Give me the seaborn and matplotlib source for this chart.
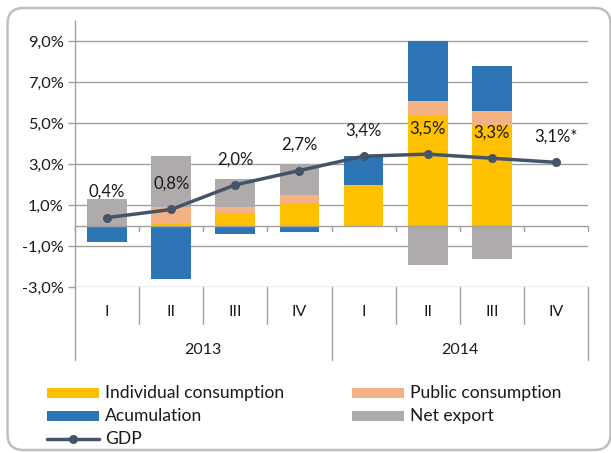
import numpy as np
import pandas as pd
import matplotlib
matplotlib.use("Agg")
import matplotlib.pyplot as plt
import seaborn as sns
from matplotlib.patches import FancyBboxPatch, Rectangle
from matplotlib.lines import Line2D
import matplotlib.transforms as mtransforms

quarters = ["I", "II", "III", "IV", "I", "II", "III", "IV"]
years = ["2013", "2014"]
individual = [0.0, 0.1, 0.6, 1.1, 2.0, 5.4, 4.9, 0.0]
public = [0.0, 0.8, 0.3, 0.4, 0.0, 0.7, 0.7, 0.0]
accumulation = [-0.8, -2.6, -0.4, -0.3, 1.4, 2.9, 2.2, 0.0]
net_export = [1.3, 2.5, 1.4, 1.5, 0.0, -1.9, -1.6, 0.0]
gdp = [0.4, 0.8, 2.0, 2.7, 3.4, 3.5, 3.3, 3.1]
gdp_labels = ["0,4%", "0,8%", "2,0%", "2,7%", "3,4%", "3,5%", "3,3%", "3,1%*"]
series_names = ["Individual consumption", "Public consumption", "Acumulation", "Net export"]
colors = ["#FFC000", "#F4B183", "#2E75B6", "#AFABAB"]
line_color = "#44546A"
grid_color = "#A0A0A0"
text_color = "#1a1a1a"

sns.set_theme(style="white")
plt.rcParams["font.family"] = ["Lato", "DejaVu Sans"]

W, H = 611, 453
fig = plt.figure(figsize=(W / 100, H / 100), dpi=100)
left, right = 75 / W, 588 / W
bottom, top = 1 - 287.3 / H, 1 - 21 / H
ax = fig.add_axes([left, bottom, right - left, top - bottom])

def fx(px):
    return px / W

def fy(py):
    return 1 - py / H

n = len(gdp)
pos_base = np.zeros(n)
neg_base = np.zeros(n)
for vals, name, col in zip([individual, public, accumulation, net_export], series_names, colors):
    v = np.array(vals, dtype=float)
    b = np.where(v >= 0, pos_base, neg_base)
    df = pd.DataFrame({"x": np.arange(n), "y": v})
    sns.barplot(data=df, x="x", y="y", color=col, width=0.62, ax=ax,
                bottom=b, errorbar=None, saturation=1, linewidth=0, zorder=2)
    pos_base = pos_base + np.where(v > 0, v, 0)
    neg_base = neg_base + np.where(v < 0, v, 0)

dfl = pd.DataFrame({"x": np.arange(n), "y": gdp})
sns.lineplot(data=dfl, x="x", y="y", ax=ax, color=line_color, linewidth=2.5,
             marker="o", markersize=6.5, markeredgewidth=0, zorder=4)
for i, (g, lab) in enumerate(zip(gdp, gdp_labels)):
    ax.annotate(lab, (i, g), xytext=(0, 18.5), textcoords="offset points",
                ha="center", va="center", fontsize=12, color=text_color, zorder=5)

ax.set_xlim(-0.5, n - 0.5)
ax.set_ylim(-3, 10)
yt = [-3, -1, 1, 3, 5, 7, 9]
ax.set_yticks(yt)
ax.set_yticklabels([f"{t:.1f}%".replace(".", ",") for t in yt], fontsize=11.8, color=text_color)
for t in yt:
    ax.axhline(t, color=grid_color, lw=1, zorder=1)
ax.axhline(0, color=grid_color, lw=1, zorder=3)
ax.tick_params(axis="y", length=5, width=1, color=grid_color, direction="out", pad=3, left=True)
ax.set_xticks([])
ax.set_xlabel("")
ax.set_ylabel("")
for s in ["top", "right", "bottom"]:
    ax.spines[s].set_visible(False)
ax.spines["left"].set_color(grid_color)
ax.spines["left"].set_linewidth(1)
ax.grid(False)
if ax.legend_:
    ax.legend_.remove()

# small ticks below the zero line
for b in np.arange(-0.5, n, 1.0):
    ax.plot([b, b], [0, -0.25], color=grid_color, lw=1, zorder=3, clip_on=False)

# multi-level category axis
btr = mtransforms.blended_transform_factory(ax.transData, ax.transAxes)
ax_h = 287.3 - 21
def ay(py):
    return (287.3 - py) / ax_h

for b in np.arange(-0.5, n, 1.0):
    is_year = b in (-0.5, 3.5, 7.5)
    y1 = ay(360) if is_year else ay(323.5)
    ax.plot([b, b], [0, y1], color=grid_color, lw=1, transform=btr, clip_on=False)
for i, q in enumerate(quarters):
    ax.text(i, ay(312), q, transform=btr, ha="center", va="center", fontsize=11.5, color=text_color)
for j, y in enumerate(years):
    ax.text(1.5 + 4 * j, ay(349.5), y, transform=btr, ha="center", va="center", fontsize=11.5, color=text_color)

# legend (manual, two columns)
leg_font = 12.6
rows = [393, 416, 439]
col1_x, col2_x = 47, 352
patch_w, patch_h = 52, 10
entries = [
    (col1_x, rows[0], "patch", colors[0], series_names[0]),
    (col2_x, rows[0], "patch", colors[1], series_names[1]),
    (col1_x, rows[1], "patch", colors[2], series_names[2]),
    (col2_x, rows[1], "patch", colors[3], series_names[3]),
    (col1_x, rows[2], "line", line_color, "GDP"),
]
for x0, yc, kind, col, lab in entries:
    if kind == "patch":
        fig.add_artist(Rectangle((fx(x0), fy(yc + patch_h / 2)), fx(patch_w), patch_h / H,
                                 transform=fig.transFigure, color=col, lw=0))
    else:
        fig.add_artist(Line2D([fx(x0), fx(x0 + patch_w)], [fy(yc), fy(yc)], transform=fig.transFigure,
                              color=col, lw=2.5))
        fig.add_artist(Line2D([fx(x0 + patch_w / 2)], [fy(yc)], transform=fig.transFigure,
                              color=col, marker="o", markersize=6.5, markeredgewidth=0))
    fig.text(fx(x0 + patch_w + 6), fy(yc), lab, ha="left", va="center", fontsize=leg_font, color=text_color)

# rounded frame
frame = FancyBboxPatch((7.5, 3), 603, 442, boxstyle="round,pad=0,rounding_size=16",
                       transform=None, fill=False, edgecolor="#BFBFBF", lw=1.8)
fig.patches.append(frame)

fig.savefig("out.png", dpi=100)
